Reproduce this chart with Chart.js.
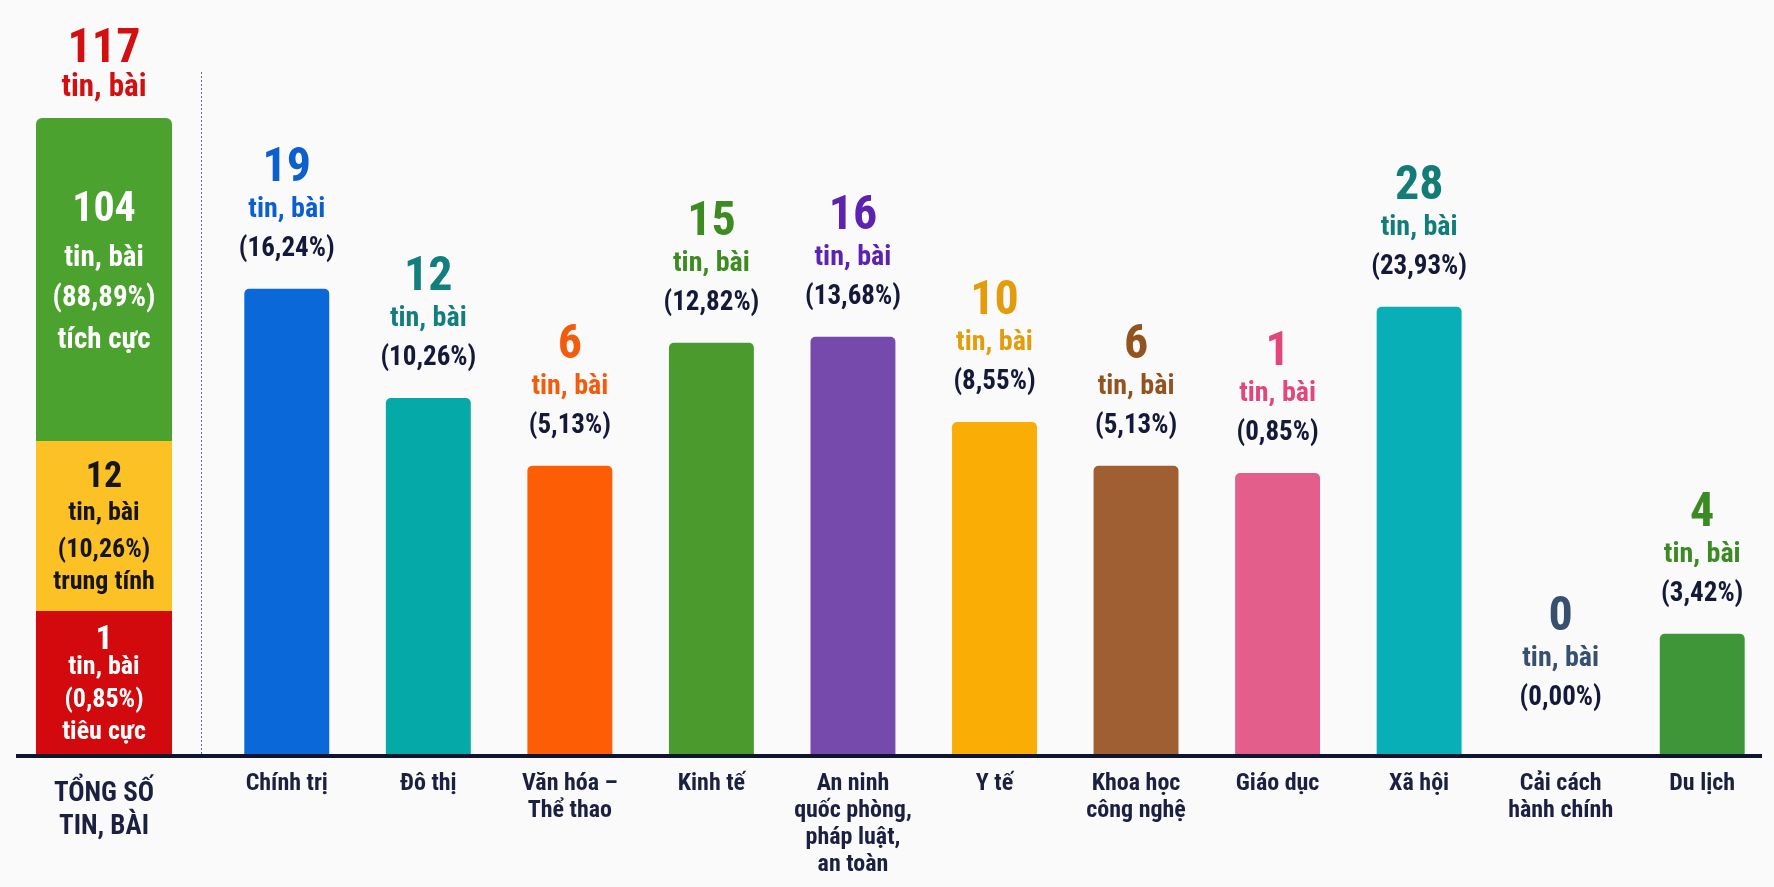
<!DOCTYPE html>
<html lang="vi">
<head>
<meta charset="utf-8">
<title>Tin, bài theo lĩnh vực</title>
<script src="https://cdn.jsdelivr.net/npm/chart.js@4.4.1/dist/chart.umd.min.js"></script>
<style>
  html, body { margin: 0; padding: 0; background: #fafafb; }
  #wrap { position: relative; width: 1774px; height: 887px; overflow: hidden; background: #fafafb; }
  #totalChart { position: absolute; left: 0; top: 0; }
  #topicChart { position: absolute; left: 201px; top: 0; }
</style>
</head>
<body>
<div id="wrap">
  <canvas id="totalChart" width="201" height="887"></canvas>
  <canvas id="topicChart" width="1573" height="887"></canvas>
</div>
<script>
// ---------- DATA ----------
const unitLabel = 'tin, bài';

// Left column: total split by tone
const totalLabel = ['TỔNG SỐ', 'TIN, BÀI'];
const totalCount = 117;
const toneNames = ['tiêu cực', 'trung tính', 'tích cực'];          // bottom → top
const toneCounts = [1, 12, 104];
const tonePercents = ['0,85%', '10,26%', '88,89%'];
// segment heights as drawn in the reference (visual scale 0–100, not proportional to counts)
const toneDrawnHeights = [22.6, 26.7, 50.7];

// Right part: articles by topic
const categories = [
  ['Chính trị'], ['Đô thị'], ['Văn hóa –', 'Thể thao'], ['Kinh tế'],
  ['An ninh', 'quốc phòng,', 'pháp luật,', 'an toàn'], ['Y tế'],
  ['Khoa học', 'công nghệ'], ['Giáo dục'], ['Xã hội'],
  ['Cải cách', 'hành chính'], ['Du lịch']
];
const articleCounts = [19, 12, 6, 15, 16, 10, 6, 1, 28, 0, 4];
const percentLabels = ['16,24%', '10,26%', '5,13%', '12,82%', '13,68%', '8,55%', '5,13%', '0,85%', '23,93%', '0,00%', '3,42%'];
// bar heights as drawn in the reference (visual scale 0–100, not proportional to counts)
const drawnBarHeights = [77.7, 59.5, 48.2, 68.7, 69.7, 55.5, 48.2, 47.0, 74.7, 0, 20.2];

// ---------- STYLE ----------
const FONT = "'Roboto Condensed', 'Liberation Sans Narrow', 'DejaVu Sans Condensed', Roboto, sans-serif";
const barColors = ['#0A68D8', '#04A9A8', '#FD5D05', '#4B9A2D', '#7649AD', '#FAAE05', '#A05F32', '#E35E8A', '#08AFB6', '#34506E', '#3E9638'];
const labelColors = ['#0B5FCF', '#127F7E', '#F25C0C', '#3D8B22', '#5B23AF', '#E39D0C', '#93531F', '#E2467B', '#127D78', '#36506E', '#3A8B23'];
const toneColors = ['#D20A0E', '#FCC125', '#4CA22F'];
const toneTextColors = ['#FFFFFF', '#16161A', '#FFFFFF'];
const NAVY = '#14193A';
const AXIS = '#10152F';

// ---------- LEFT CHART ----------
const totalPlugin = {
  id: 'totalLabels',
  afterDatasetsDraw(chart) {
    const ctx = chart.ctx;
    const ca = chart.chartArea;
    ctx.save();
    // baseline
    ctx.fillStyle = AXIS;
    ctx.fillRect(ca.left, ca.bottom - 1, chart.width - ca.left, 4);
    ctx.textAlign = 'center';
    ctx.textBaseline = 'alphabetic';
    // segment texts
    const numSizes = [34, 36, 42];
    const txtSizes = [26, 26, 29];
    const offs = [[-34, -9, 24, 56], [-39, -6, 31, 63], [-58, -13, 27, 69]];
    let cx = 0, topY = ca.bottom;
    toneCounts.forEach((c, i) => {
      const el = chart.getDatasetMeta(i).data[0];
      cx = el.x;
      const mid = (el.y + el.base) / 2;
      topY = Math.min(topY, el.y);
      ctx.fillStyle = toneTextColors[i];
      ctx.font = `bold ${numSizes[i]}px ${FONT}`;
      ctx.fillText(String(c), cx, mid + offs[i][0]);
      ctx.font = `bold ${txtSizes[i]}px ${FONT}`;
      ctx.fillText(unitLabel, cx, mid + offs[i][1]);
      ctx.fillText('(' + tonePercents[i] + ')', cx, mid + offs[i][2]);
      ctx.fillText(toneNames[i], cx, mid + offs[i][3]);
    });
    // total above
    ctx.fillStyle = '#D40F10';
    ctx.font = `bold 48px ${FONT}`;
    ctx.fillText(String(totalCount), cx, topY - 56);
    ctx.font = `bold 31px ${FONT}`;
    ctx.fillText(unitLabel, cx, topY - 22);
    ctx.restore();
  }
};

new Chart(document.getElementById('totalChart'), {
  type: 'bar',
  data: {
    labels: [totalLabel],
    datasets: toneCounts.map((c, i) => ({
      label: toneNames[i],
      data: [toneDrawnHeights[i]],
      backgroundColor: toneColors[i],
      borderWidth: 0,
      borderSkipped: false,
      borderRadius: i === toneCounts.length - 1 ? { topLeft: 6, topRight: 6, bottomLeft: 0, bottomRight: 0 } : 0,
      barPercentage: 0.773,
      categoryPercentage: 1
    }))
  },
  options: {
    responsive: false,
    animation: false,
    devicePixelRatio: window.devicePixelRatio || 1,
    layout: { padding: { left: 16, right: 9, top: 118, bottom: 0 } },
    plugins: { legend: { display: false }, tooltip: { enabled: false } },
    scales: {
      x: {
        stacked: true,
        grid: { display: false },
        border: { display: false },
        ticks: { color: '#1B2040', padding: 15, font: { family: FONT, size: 27, weight: 'bold', lineHeight: '33px' } },
        afterFit(s) { s.height = 132; }
      },
      y: { stacked: true, display: false, min: 0, max: 100 }
    }
  },
  plugins: [totalPlugin]
});

// ---------- RIGHT CHART ----------
const topicPlugin = {
  id: 'topicLabels',
  afterDatasetsDraw(chart) {
    const ctx = chart.ctx;
    const ca = chart.chartArea;
    ctx.save();
    // dotted separator
    ctx.strokeStyle = '#5F6884';
    ctx.lineWidth = 1;
    ctx.setLineDash([2, 2]);
    ctx.beginPath();
    ctx.moveTo(0.5, 72);
    ctx.lineTo(0.5, ca.bottom);
    ctx.stroke();
    ctx.setLineDash([]);
    // baseline
    ctx.fillStyle = AXIS;
    ctx.fillRect(0, ca.bottom - 1, ca.right - 11, 4);
    // value labels
    ctx.textAlign = 'center';
    ctx.textBaseline = 'alphabetic';
    chart.getDatasetMeta(0).data.forEach((bar, i) => {
      const x = bar.x;
      const y = bar.y - (articleCounts[i] === 0 ? 17 : 0);
      ctx.fillStyle = labelColors[i];
      ctx.font = `bold 48px ${FONT}`;
      ctx.fillText(String(articleCounts[i]), x, y - 108);
      ctx.font = `bold 28px ${FONT}`;
      ctx.fillText(unitLabel, x, y - 72);
      ctx.fillStyle = NAVY;
      ctx.font = `bold 27px ${FONT}`;
      ctx.fillText('(' + percentLabels[i] + ')', x, y - 33);
    });
    ctx.restore();
  }
};

new Chart(document.getElementById('topicChart'), {
  type: 'bar',
  data: {
    labels: categories,
    datasets: [{
      label: 'Số tin, bài',
      data: drawnBarHeights,
      backgroundColor: barColors,
      borderWidth: 0,
      borderSkipped: 'start',
      borderRadius: { topLeft: 5, topRight: 5, bottomLeft: 0, bottomRight: 0 },
      barPercentage: 0.6,
      categoryPercentage: 1
    }]
  },
  options: {
    responsive: false,
    animation: false,
    devicePixelRatio: window.devicePixelRatio || 1,
    layout: { padding: { left: 15, right: 1, top: 155, bottom: 0 } },
    plugins: { legend: { display: false }, tooltip: { enabled: false } },
    scales: {
      x: {
        grid: { display: false },
        border: { display: false },
        ticks: { color: '#1B2040', padding: 7, maxRotation: 0, autoSkip: false, font: { family: FONT, size: 24, weight: 'bold', lineHeight: '27px' } },
        afterFit(s) { s.height = 132; }
      },
      y: { display: false, min: 0, max: 100 }
    }
  },
  plugins: [topicPlugin]
});
</script>
</body>
</html>
